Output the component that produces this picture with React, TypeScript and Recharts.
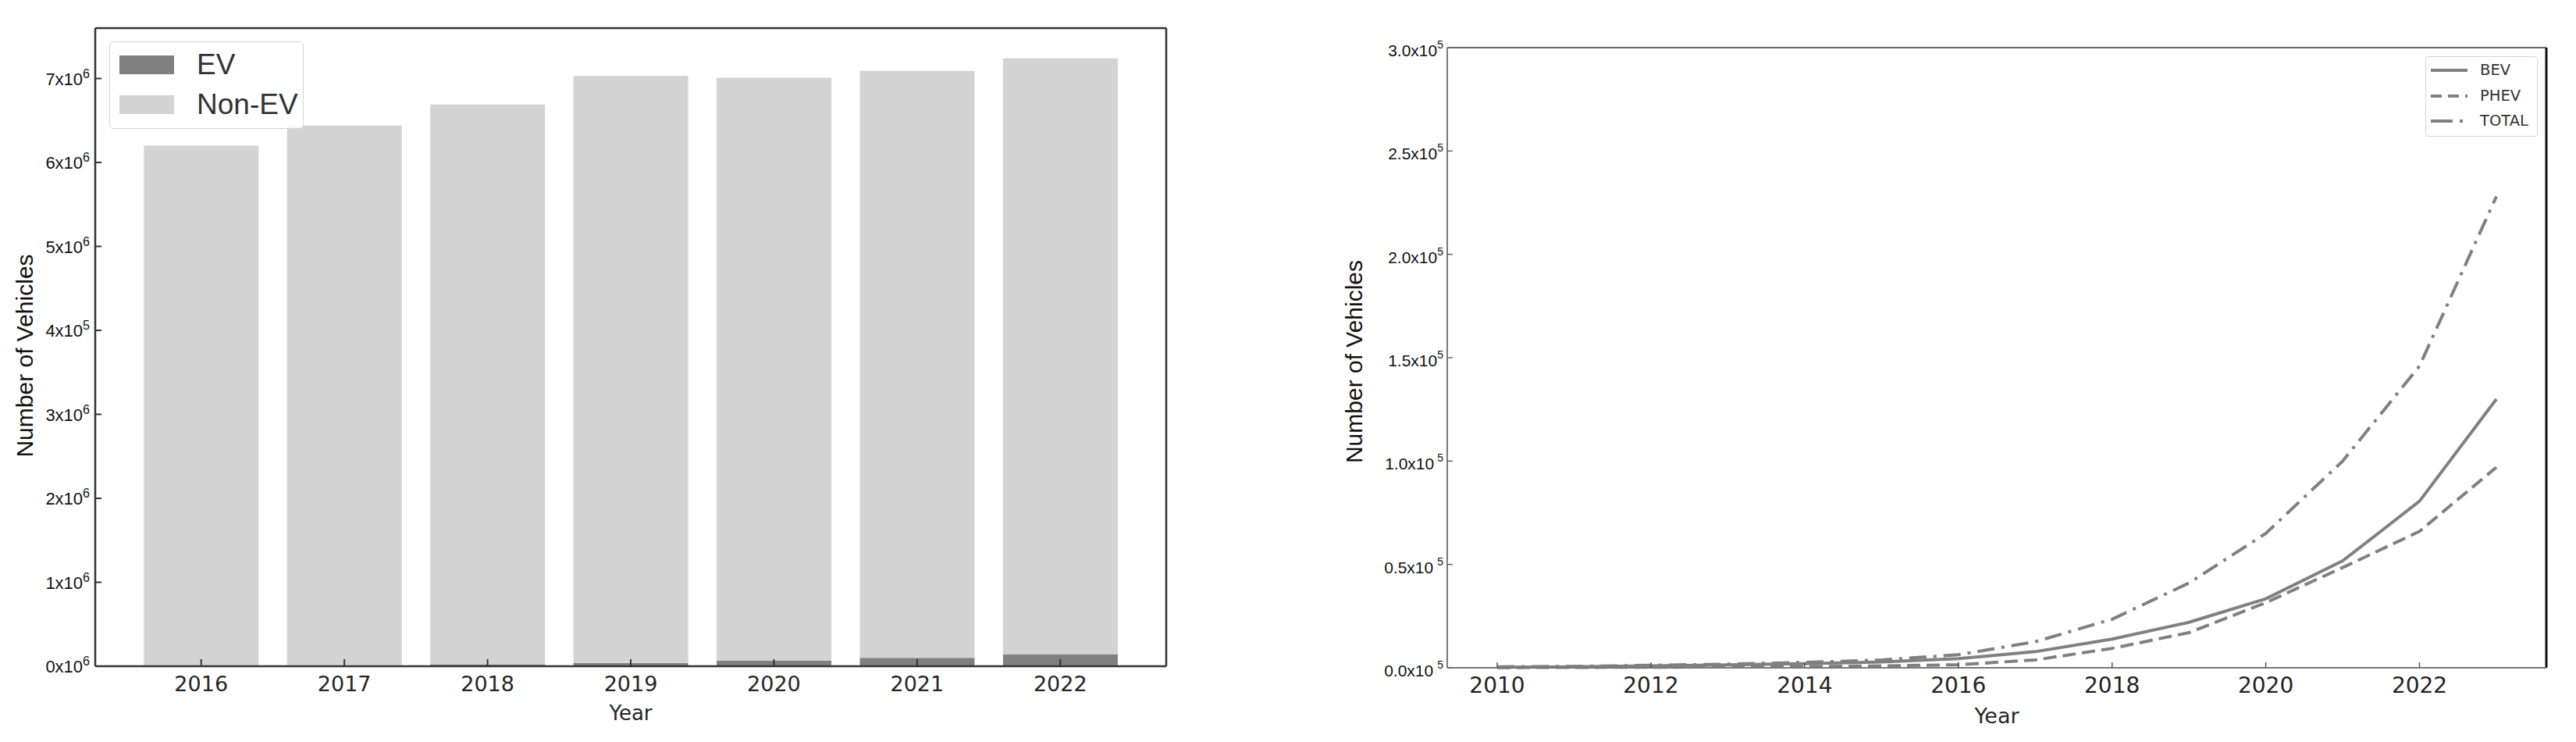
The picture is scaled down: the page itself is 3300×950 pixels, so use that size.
import React from "react";
import { Bar, BarChart, CartesianGrid, Line, LineChart, XAxis, YAxis } from "recharts";

// left panel: registered vehicles per year
const barYears = ["2016", "2017", "2018", "2019", "2020", "2021", "2022"];
const evCounts = [6000, 12000, 24000, 40000, 65000, 100000, 145000];
const nonEvCounts = [6194000, 6428000, 6666000, 6990000, 6945000, 6990000, 7095000];
const barTicks = [0, 1000000, 2000000, 3000000, 4000000, 5000000, 6000000, 7000000];
const barTickBase = ["0x10", "1x10", "2x10", "3x10", "4x10", "5x10", "6x10", "7x10"];
const barTickExp = ["6", "6", "6", "6", "5", "6", "6", "6"];

// right panel: EV stock by type
const lineYears = [2010, 2011, 2012, 2013, 2014, 2015, 2016, 2017, 2018, 2019, 2020, 2021, 2022, 2023];
const bevCounts = [300, 500, 900, 1400, 2000, 2800, 4400, 7800, 13900, 22000, 33400, 51700, 80600, 130000];
const phevCounts = [100, 200, 300, 400, 600, 900, 1500, 3800, 9400, 17000, 31500, 48500, 66000, 97000];
const totalCounts = [500, 700, 1200, 1800, 2600, 3800, 6300, 12600, 23500, 41000, 65000, 100000, 146000, 228000];
const lineYTicks = [0, 50000, 100000, 150000, 200000, 250000, 300000];
const lineYTickBase = ["0.0x10", "0.5x10", "1.0x10", "1.5x10", "2.0x10", "2.5x10", "3.0x10"];
const lineYTickGap = [5, 5, 4, 0, 0, 0, 0];
const lineXTicks = [2010, 2012, 2014, 2016, 2018, 2020, 2022];

const ARIAL = "'Liberation Sans', Arial, sans-serif";
const DEJAVU = "'DejaVu Sans', sans-serif";

const barData = barYears.map((year, i) => ({ year, ev: evCounts[i], nonEv: nonEvCounts[i] }));
const lineData = lineYears.map((year, i) => ({
  year,
  bev: bevCounts[i],
  phev: phevCounts[i],
  total: totalCounts[i],
}));

const lineSeries = [
  { key: "bev", name: "BEV", dash: undefined as string | undefined, legendDash: undefined as string | undefined },
  { key: "phev", name: "PHEV", dash: "17 8", legendDash: "14 8" },
  { key: "total", name: "TOTAL", dash: "22 9 4 9", legendDash: "28 9 4 9" },
];

// frame edges (top / right spines) drawn with grid lines on the plot border
const topEdge = ({ offset }: any) => [offset.top];
const rightEdge = ({ offset }: any) => [offset.left + offset.width];

function BarYTick({ x, y, payload }: any) {
  const i = barTicks.indexOf(payload.value);
  return (
    <g>
      <line x1={x} x2={x + 8} y1={y} y2={y} stroke="#333" strokeWidth={2} />
      <text x={x - 7} y={y + 8} textAnchor="end" fontFamily={ARIAL} fontSize={22} fill="#111">
        {barTickBase[i]}
        <tspan dy={-9} fontSize={16}>
          {barTickExp[i]}
        </tspan>
      </text>
    </g>
  );
}

function BarXTick({ x, y, payload }: any) {
  return (
    <g>
      <line x1={x} x2={x} y1={y} y2={y - 9} stroke="#333" strokeWidth={2} />
      <text x={x} y={y + 32} textAnchor="middle" fontFamily={DEJAVU} fontSize={27} fill="#262626">
        {payload.value}
      </text>
    </g>
  );
}

function LineYTick({ x, y, payload }: any) {
  const i = lineYTicks.indexOf(payload.value);
  return (
    <g>
      <line x1={x} x2={x + 7} y1={y} y2={y} stroke="#666" strokeWidth={1.5} />
      <text x={x - 5} y={y + 11} textAnchor="end" fontFamily={ARIAL} fontSize={21} fill="#111">
        {lineYTickBase[i]}
        <tspan dx={lineYTickGap[i]} dy={-10} fontSize={14}>
          5
        </tspan>
      </text>
    </g>
  );
}

function LineXTick({ x, y, payload }: any) {
  return (
    <g>
      <line x1={x} x2={x} y1={y} y2={y - 7} stroke="#555" strokeWidth={1.5} />
      <text x={x} y={y + 32} textAnchor="middle" fontFamily={DEJAVU} fontSize={28} fill="#222">
        {payload.value}
      </text>
    </g>
  );
}

function BarLegend() {
  const rows = [
    { name: "EV", color: "#808080", top: 17, textTop: 29 },
    { name: "Non-EV", color: "#d3d3d3", top: 68, textTop: 80 },
  ];
  return (
    <div
      style={{
        position: "absolute",
        left: 140,
        top: 53,
        width: 247,
        height: 110,
        border: "1.5px solid #d6d6d6",
        borderRadius: 5,
        background: "rgba(255,255,255,0.85)",
      }}
    >
      {rows.map((r) => (
        <React.Fragment key={r.name}>
          <div style={{ position: "absolute", left: 12, top: r.top, width: 70, height: 24, background: r.color }} />
          <div
            style={{
              position: "absolute",
              left: 111,
              top: r.textTop - 22,
              fontFamily: ARIAL,
              fontSize: 37,
              lineHeight: "44px",
              color: "#333",
            }}
          >
            {r.name}
          </div>
        </React.Fragment>
      ))}
    </div>
  );
}

function LineLegend() {
  const rowY = [17, 50, 82];
  return (
    <div
      style={{
        position: "absolute",
        left: 3107,
        top: 72,
        width: 142,
        height: 101,
        border: "1.5px solid #d6d6d6",
        borderRadius: 4,
        background: "#fff",
      }}
    >
      <svg width={60} height={100} style={{ position: "absolute", left: 0, top: 0 }}>
        {lineSeries.map((s, i) => (
          <line
            key={s.key}
            x1={6}
            x2={53}
            y1={rowY[i]}
            y2={rowY[i]}
            stroke="#808080"
            strokeWidth={4}
            strokeDasharray={s.legendDash}
          />
        ))}
      </svg>
      {lineSeries.map((s, i) => (
        <div
          key={s.key}
          style={{
            position: "absolute",
            left: 69,
            top: rowY[i] - 13,
            fontFamily: DEJAVU,
            fontSize: 19.5,
            lineHeight: "26px",
            color: "#333",
          }}
        >
          {s.name}
        </div>
      ))}
    </div>
  );
}

export default function App() {
  return (
    <div style={{ position: "relative", width: 3300, height: 950, background: "#fff", overflow: "hidden" }}>
      <style>{`body{margin:0}`}</style>

      <div style={{ position: "absolute", left: 0, top: 0 }}>
        <BarChart
          width={1540}
          height={950}
          data={barData}
          margin={{ top: 36, right: 46, bottom: 0, left: 0 }}
          barCategoryGap="10%"
        >
          <CartesianGrid
            horizontalCoordinatesGenerator={topEdge}
            verticalCoordinatesGenerator={rightEdge}
            stroke="#333"
            strokeWidth={2.5}
          />
          <XAxis
            dataKey="year"
            height={97}
            padding={{ left: 44, right: 44 }}
            interval={0}
            tickSize={0}
            tickMargin={0}
            tickLine={false}
            tick={<BarXTick />}
            axisLine={{ stroke: "#333", strokeWidth: 2.5 }}
            label={{
              content: ({ viewBox }: any) => (
                <text
                  x={viewBox.x + viewBox.width / 2}
                  y={viewBox.y + 69}
                  textAnchor="middle"
                  fontFamily={DEJAVU}
                  fontSize={26}
                  fill="#262626"
                >
                  Year
                </text>
              ),
            }}
          />
          <YAxis
            width={122}
            domain={[0, 7600000]}
            ticks={barTicks}
            interval={0}
            tickSize={0}
            tickMargin={0}
            tickLine={false}
            tick={<BarYTick />}
            axisLine={{ stroke: "#333", strokeWidth: 2.5 }}
            label={{
              content: ({ viewBox }: any) => {
                const cx = 42;
                const cy = viewBox.y + viewBox.height / 2 + 11;
                return (
                  <text
                    x={cx}
                    y={cy}
                    transform={`rotate(-90 ${cx} ${cy})`}
                    textAnchor="middle"
                    fontFamily={ARIAL}
                    fontSize={30}
                    fill="#111"
                  >
                    Number of Vehicles
                  </text>
                );
              },
            }}
          />
          <Bar dataKey="ev" name="EV" stackId="a" fill="#808080" isAnimationActive={false} />
          <Bar dataKey="nonEv" name="Non-EV" stackId="a" fill="#d3d3d3" isAnimationActive={false} />
        </BarChart>
      </div>
      <BarLegend />

      <div style={{ position: "absolute", left: 1560, top: 0 }}>
        <LineChart width={1740} height={950} data={lineData} margin={{ top: 61, right: 38, bottom: 0, left: 0 }}>
          <CartesianGrid vertical={false} horizontalCoordinatesGenerator={topEdge} stroke="#666" strokeWidth={2} />
          <CartesianGrid horizontal={false} verticalCoordinatesGenerator={rightEdge} stroke="#111" strokeWidth={3} />
          <XAxis
            dataKey="year"
            type="number"
            domain={[2009.35, 2023.65]}
            ticks={lineXTicks}
            interval={0}
            height={95}
            tickSize={0}
            tickMargin={0}
            tickLine={false}
            tick={<LineXTick />}
            axisLine={{ stroke: "#777", strokeWidth: 2 }}
            label={{
              content: ({ viewBox }: any) => (
                <text
                  x={viewBox.x + viewBox.width / 2}
                  y={viewBox.y + 71}
                  textAnchor="middle"
                  fontFamily={DEJAVU}
                  fontSize={27}
                  fill="#262626"
                >
                  Year
                </text>
              ),
            }}
          />
          <YAxis
            width={294}
            domain={[0, 300000]}
            ticks={lineYTicks}
            interval={0}
            tickSize={0}
            tickMargin={0}
            tickLine={false}
            tick={<LineYTick />}
            axisLine={{ stroke: "#777", strokeWidth: 2 }}
            label={{
              content: ({ viewBox }: any) => {
                const cx = 185;
                const cy = viewBox.y + viewBox.height / 2 + 5;
                return (
                  <text
                    x={cx}
                    y={cy}
                    transform={`rotate(-90 ${cx} ${cy})`}
                    textAnchor="middle"
                    fontFamily={ARIAL}
                    fontSize={30}
                    fill="#111"
                  >
                    Number of Vehicles
                  </text>
                );
              },
            }}
          />
          {lineSeries.map((s) => (
            <Line
              key={s.key}
              type="linear"
              dataKey={s.key}
              name={s.name}
              stroke="#808080"
              strokeWidth={4}
              strokeDasharray={s.dash}
              dot={false}
              isAnimationActive={false}
            />
          ))}
        </LineChart>
      </div>
      <LineLegend />
    </div>
  );
}
